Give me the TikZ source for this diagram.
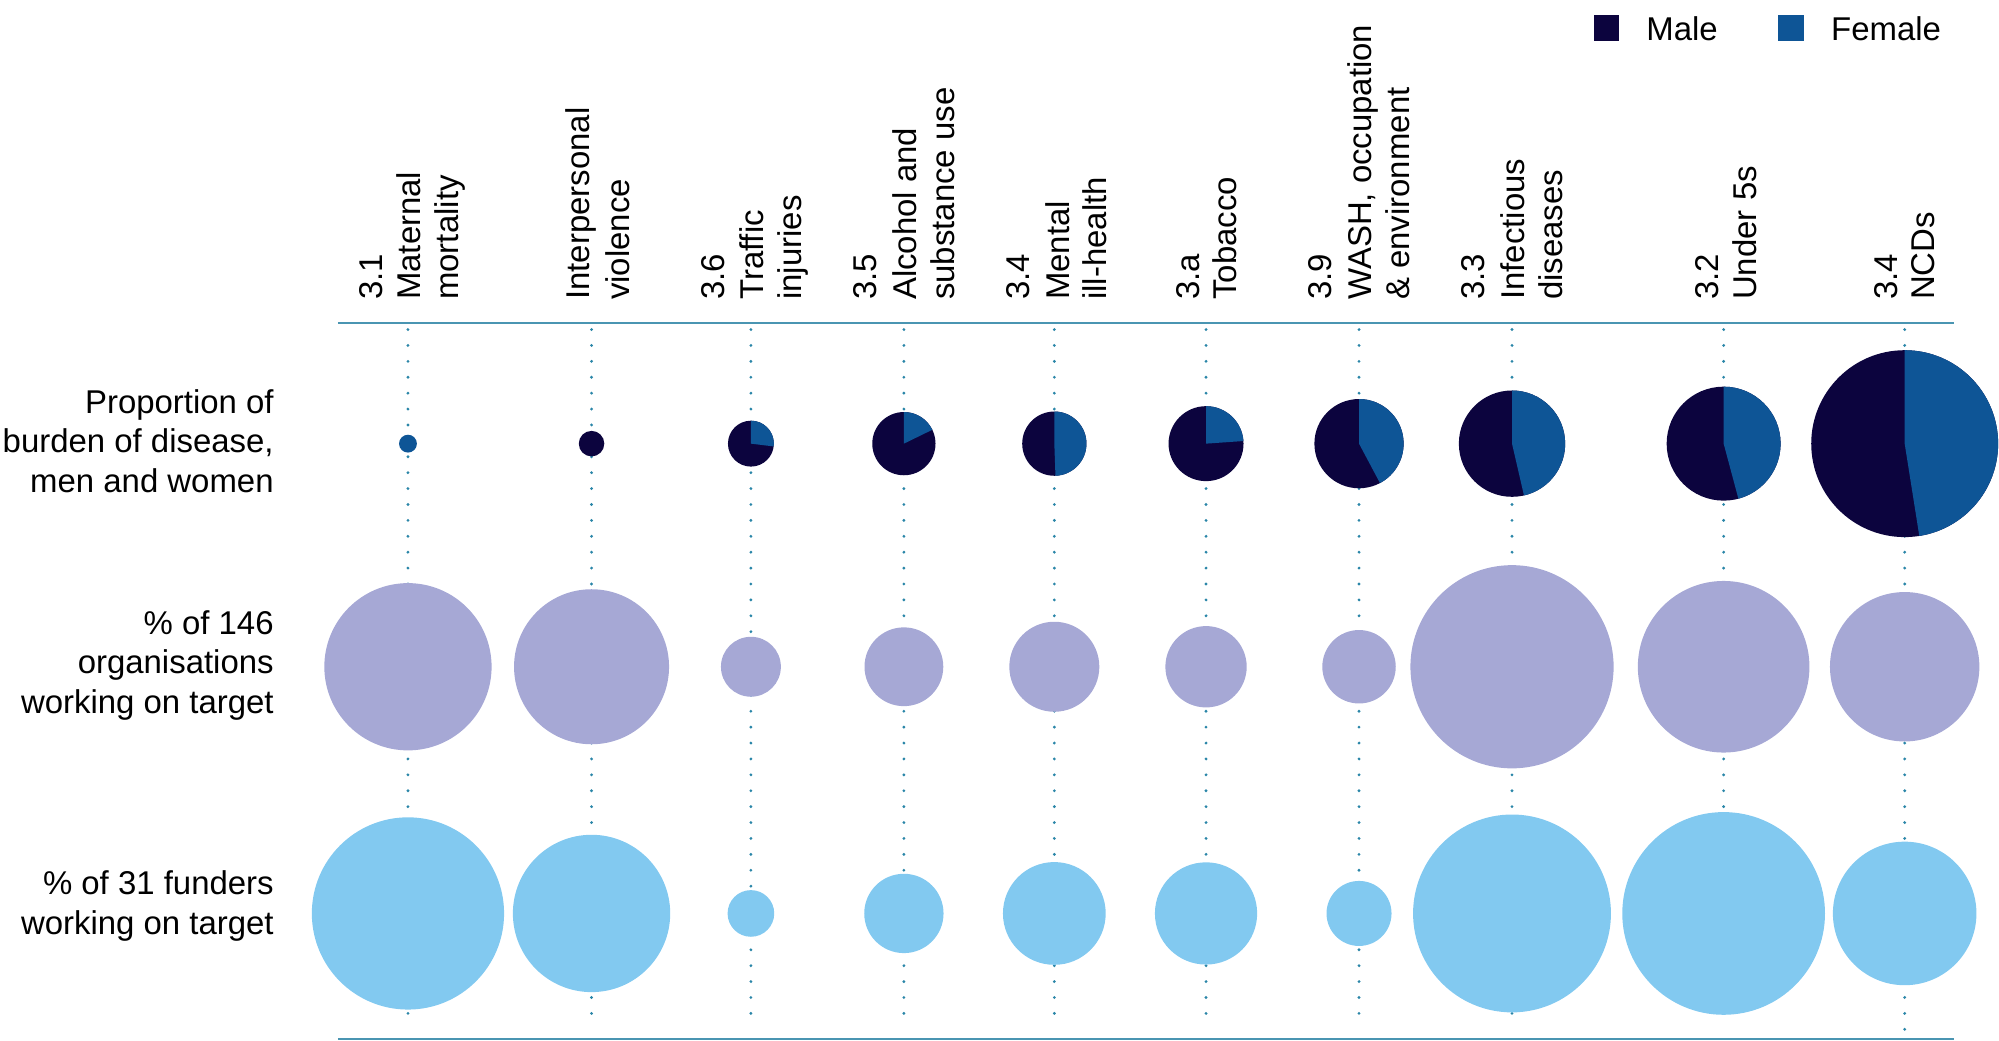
\documentclass[tikz,border=0pt]{standalone}
\usepackage{fontspec}
\setmainfont{Liberation Sans}
\definecolor{male}{HTML}{0C043E}
\definecolor{female}{HTML}{0E5596}
\definecolor{lav}{HTML}{A6A8D5}
\definecolor{lblue}{HTML}{82C9F0}
\definecolor{dotc}{HTML}{2A86A8}
\definecolor{rulec}{HTML}{4A95B2}
\begin{document}
\begin{tikzpicture}[x=0.02cm,y=0.02cm,
  lab/.style={font=\fontsize{14.7pt}{17.6pt}\selectfont, text=black},
  head/.style={lab, rotate=90, anchor=mid west, inner sep=0pt},
  rowlab/.style={lab, align=right, anchor=east, inner sep=0pt},
  leg/.style={lab, anchor=base west, inner sep=0pt},
  dotline/.style={dotc, line width=1.4pt, line cap=round, dash pattern=on 0pt off 7.1pt},
  rulel/.style={rulec, line width=0.9pt}]
\useasboundingbox (0,0) rectangle (1568,816.5);
% dotted guide lines
\foreach \x [count=\i] in {320,464,589,709,827,946,1066,1186,1352}{
  \coordinate (t\i) at (\x,558);
  \coordinate (b\i) at (\x,14.5);
  \draw[dotline] (t\i) -- (b\i);
}
\coordinate (t10) at (1494,558);
\coordinate (b10) at (1494,3);
\draw[dotline] (t10) -- (b10);
% rules
\coordinate (rl1) at (265,563.5); \coordinate (rr1) at (1533,563.5);
\coordinate (rl2) at (265,1.5); \coordinate (rr2) at (1533,1.5);
\draw[rulel] (rl1) -- (rr1);
\draw[rulel] (rl2) -- (rr2);
% organisations and funders circles
\foreach \x/\orr/\fr in {320/65.6/75.4, 464/60.8/61.7, 589/23.5/18.3, 709/30.9/31.1,
   827/35.3/40.3, 946/31.9/40.1, 1066/28.8/25.5, 1186/79.7/77.6, 1352/67.3/79.5, 1494/58.6/56.3}{
  \fill[lav] (\x,293.5) circle[radius=\orr];
  \fill[lblue] (\x,100) circle[radius=\fr];
}
% pies
\fill[female] (320,468.5) circle[radius=7];
\fill[male] (464,468.5) circle[radius=10];
\foreach \x/\r/\e in {589/18/-7, 709/24.8/26, 827/25.2/-88, 946/29.4/4, 1066/35/-62,
   1186/41.7/-77, 1352/44.7/-75, 1494/73.3/-81}{
  \fill[male] (\x,468.5) circle[radius=\r];
  \fill[female] (\x,468.5) -- ++(90:\r) arc[start angle=90, end angle=\e, radius=\r] -- cycle;
}
% header labels
\node[head] (h1a) at (295,581) {3.1};
\node[head] (h1b) at (325,581) {Maternal};
\node[head] (h1c) at (355,581) {mortality};
\node[head] (h2a) at (458,581) {Interpersonal};
\node[head] (h2b) at (489,581) {violence};
\node[head] (h3a) at (564,581) {3.6};
\node[head] (h3b) at (594,581) {Traffic};
\node[head] (h3c) at (624,581) {injuries};
\node[head] (h4a) at (683,581) {3.5};
\node[head] (h4b) at (714,581) {Alcohol and};
\node[head] (h4c) at (744,581) {substance use};
\node[head] (h5a) at (803,581) {3.4};
\node[head] (h5b) at (834,581) {Mental};
\node[head] (h5c) at (863,581) {ill-health};
\node[head] (h6a) at (936,581) {3.a};
\node[head] (h6b) at (965,581) {Tobacco};
\node[head] (h7a) at (1040,581) {3.9};
\node[head] (h7b) at (1071,581) {WASH, occupation};
\node[head] (h7c) at (1101,581) {\& environment};
\node[head] (h8a) at (1160,581) {3.3};
\node[head] (h8b) at (1191,581) {Infectious};
\node[head] (h8c) at (1221,581) {diseases};
\node[head] (h9a) at (1343,581) {3.2};
\node[head] (h9b) at (1373,581) {Under 5s};
\node[head] (h10a) at (1484,581) {3.4};
\node[head] (h10b) at (1513,581) {NCDs};
% row labels
\node[rowlab] (r1) at (215,470.5) {Proportion of\\burden of disease,\\men and women};
\node[rowlab] (r2) at (215,294.5) {\% of 146\\organisations\\working on target};
\node[rowlab] (r3) at (215,106) {\% of 31 funders\\working on target};
% legend
\fill[male] (1250,784.5) rectangle (1270,805);
\node[leg] (lm) at (1291,784.5) {Male};
\fill[female] (1395,784.5) rectangle (1415,805);
\node[leg] (lf) at (1436,784.5) {Female};
\end{tikzpicture}
\end{document}
